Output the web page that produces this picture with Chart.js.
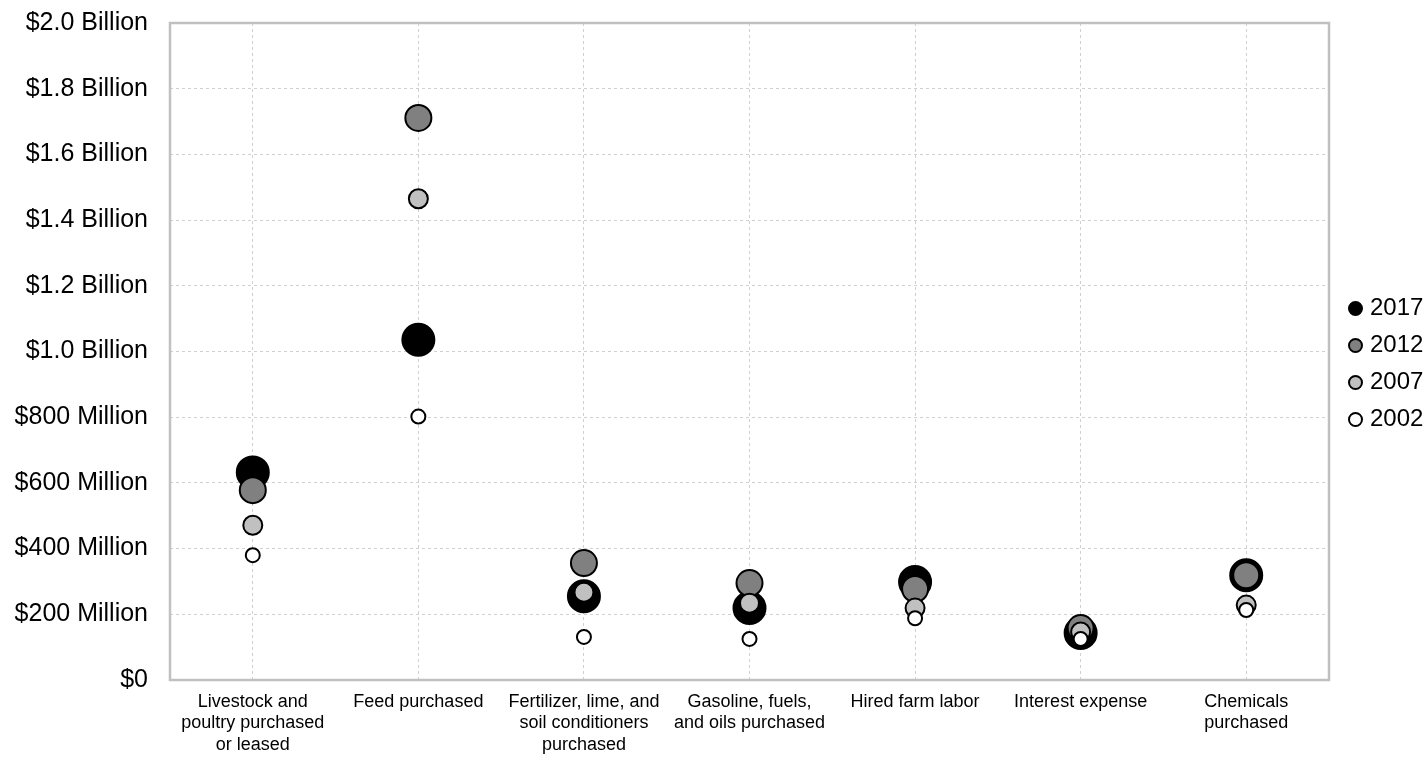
<!DOCTYPE html>
<html>
<head>
<meta charset="utf-8">
<script src="https://cdn.jsdelivr.net/npm/chart.js@4"></script>
<style>
    html, body { margin: 0; padding: 0; background: #fff; }
    #wrap { width: 1427px; height: 757px; position: relative; }
    #legend {
        position: absolute; left: 1348px; top: 288px;
        margin: 0; padding: 0; list-style: none;
        font: 24px "Liberation Sans", Arial, sans-serif; color: #000;
    }
    #legend li { height: 37px; line-height: 37px; white-space: nowrap; }
    #legend .dot {
        display: inline-block; width: 15px; height: 15px; box-sizing: border-box;
        border: 2px solid #000; border-radius: 50%;
        margin-right: 7px; vertical-align: -1px;
    }
</style>
</head>
<body>
<div id="wrap"><canvas id="chart"></canvas><ul id="legend"></ul></div>
<script>
const categories = [
    ['Livestock and', 'poultry purchased', 'or leased'],
    'Feed purchased',
    ['Fertilizer, lime, and', 'soil conditioners', 'purchased'],
    ['Gasoline, fuels,', 'and oils purchased'],
    'Hired farm labor',
    'Interest expense',
    ['Chemicals', 'purchased']
];

// dollars
const values2017 = [632e6, 1036e6, 255e6, 219e6, 298e6, 143e6, 319e6];
const values2012 = [578e6, 1711e6, 356e6, 295e6, 277e6, 158e6, 319e6];
const values2007 = [471e6, 1465e6, 267e6, 234e6, 219e6, 146e6, 228e6];
const values2002 = [380e6, 802e6, 131e6, 125e6, 188e6, 125e6, 213e6];

const yTicks = [0, 2e8, 4e8, 6e8, 8e8, 1e9, 1.2e9, 1.4e9, 1.6e9, 1.8e9, 2e9];

const FONT = '"Liberation Sans", Arial, sans-serif';

function formatDollars(value) {
    if (value === 0) return '$0';
    if (value >= 1e9) return `$${(value / 1e9).toFixed(1)} Billion`;
    return `$${Math.round(value / 1e6)} Million`;
}

function series(label, data, fill, radius, order) {
    return {
        label,
        data,
        showLine: false,
        order,
        backgroundColor: fill,
        borderColor: '#000',
        borderWidth: 2,
        pointBackgroundColor: fill,
        pointBorderColor: '#000',
        pointBorderWidth: 2,
        pointRadius: radius,
        pointHoverRadius: radius,
        pointStyle: 'circle'
    };
}

// grey frame round the plot area
const frame = {
    id: 'frame',
    afterDraw(chart) {
        const { ctx, chartArea: a } = chart;
        ctx.save();
        ctx.strokeStyle = '#c0c0c0';
        ctx.lineWidth = 2.5;
        ctx.strokeRect(a.left, a.top, a.right - a.left, a.bottom - a.top);
        ctx.restore();
    }
};

const chart = new Chart(document.getElementById('chart'), {
    type: 'line',
    data: {
        labels: categories,
        datasets: [
            series('2017', values2017, '#000000', 16, 4),
            series('2012', values2012, '#808080', 13, 3),
            series('2007', values2007, '#c0c0c0', 9.5, 2),
            series('2002', values2002, '#ffffff', 7, 1)
        ]
    },
    options: {
        responsive: true,
        maintainAspectRatio: false,
        animation: false,
        layout: { padding: { left: 13, top: 23, right: 98, bottom: 0 } },
        plugins: {
            tooltip: { enabled: false },
            legend: { display: false }
        },
        scales: {
            x: {
                offset: true,
                afterFit: (axis) => { axis.height = 77; },
                grid: {
                    offset: false,
                    color: '#d0d0d0',
                    tickLength: 0,
                    drawTicks: false
                },
                border: { display: false, dash: [3, 3] },
                ticks: {
                    color: '#000',
                    font: { family: FONT, size: 18 },
                    padding: 11,
                    maxRotation: 0,
                    autoSkip: false
                }
            },
            y: {
                min: 0,
                max: 2e9,
                afterBuildTicks: (axis) => { axis.ticks = yTicks.map(v => ({ value: v })); },
                afterFit: (axis) => {
                    axis.width = 157;
                    axis.paddingTop = 0;
                    axis.paddingBottom = 0;
                },
                grid: { color: '#d0d0d0', drawTicks: false, tickLength: 0 },
                border: { display: false, dash: [3, 3] },
                ticks: {
                    color: '#000',
                    font: { family: FONT, size: 25 },
                    padding: 22,
                    callback: (value) => formatDollars(value)
                }
            }
        }
    },
    plugins: [frame]
});

// legend in dataset order, as in the reference
const legend = document.getElementById('legend');
for (const ds of chart.data.datasets) {
    const li = document.createElement('li');
    const dot = document.createElement('span');
    dot.className = 'dot';
    dot.style.background = ds.backgroundColor;
    li.appendChild(dot);
    li.appendChild(document.createTextNode(ds.label));
    legend.appendChild(li);
}
</script>
</body>
</html>
